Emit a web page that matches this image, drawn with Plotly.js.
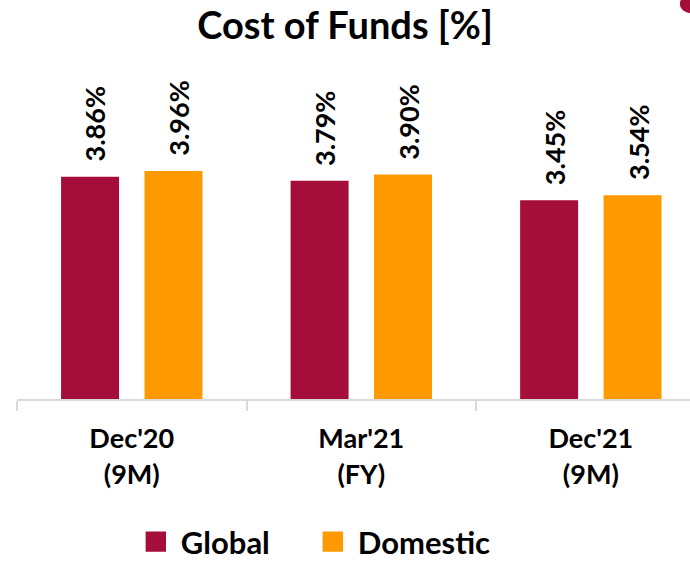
<!DOCTYPE html>
<html>
<head>
<meta charset="utf-8">
<script src="https://cdn.plot.ly/plotly-3.0.1.min.js"></script>
<style>
  html, body { margin: 0; padding: 0; background: #ffffff; }
  #chart { width: 690px; height: 563px; }
</style>
</head>
<body>
<div id="chart"></div>
<script>
// ---- data ----
const categories = ["Dec'20<br>(9M)", "Mar'21<br>(FY)", "Dec'21<br>(9M)"];
const globalValues = [3.86, 3.79, 3.45];
const domesticValues = [3.96, 3.90, 3.54];
const seriesNames = ["Global", "Domestic"];
const chartTitle = "Cost of Funds [%]";

const crimson = "#A50E3B";
const orange = "#FF9900";
const FONT = "Lato, 'Open Sans', sans-serif";

const fmt = v => v.toFixed(2) + "%";

const traces = [
  {
    type: "bar", name: seriesNames[0], x: categories, y: globalValues,
    marker: { color: crimson }, hoverinfo: "skip"
  },
  {
    type: "bar", name: seriesNames[1], x: categories, y: domesticValues,
    marker: { color: orange }, hoverinfo: "skip"
  }
];

const barShift = 42;
const annotations = [];
[globalValues, domesticValues].forEach((vals, s) => {
  vals.forEach((v, i) => {
    annotations.push({
      x: categories[i], y: v, xref: "x", yref: "y",
      text: fmt(v), showarrow: false, textangle: -90,
      xanchor: "center", yanchor: "bottom",
      xshift: (s === 0 ? -barShift : barShift) + 5, yshift: 13,
      font: { family: FONT, size: 27, color: "#000000", weight: "bold" }
    });
  });
});

const layout = {
  width: 690, height: 563,
  paper_bgcolor: "#ffffff", plot_bgcolor: "#ffffff",
  margin: { l: 17, r: 0, t: 50, b: 164 },
  title: {
    text: "<b>" + chartTitle + "</b>",
    font: { family: FONT, size: 38, color: "#000000" },
    x: 0.5, xref: "container", xanchor: "center",
    y: 1 - 26 / 563, yref: "container", yanchor: "middle"
  },
  barmode: "group",
  bargap: 0.273,
  bargroupgap: 0.305,
  xaxis: {
    type: "category",
    range: [-0.5, 2.432],
    showline: true, linecolor: "#d9d9d9", linewidth: 2,
    ticks: "outside", tickson: "boundaries", ticklen: 10, tickwidth: 2, tickcolor: "#d9d9d9",
    tickfont: { family: FONT, size: 27, color: "#000000", weight: "bold" },
    ticklabelstandoff: 15,
    showgrid: false, zeroline: false, fixedrange: true
  },
  yaxis: {
    range: [0, 6.06],
    visible: false, showgrid: false, zeroline: false, fixedrange: true
  },
  showlegend: true,
  legend: {
    orientation: "h",
    x: 0.447, xanchor: "center",
    yref: "container", y: 1 - 542 / 563, yanchor: "middle",
    font: { family: FONT, size: 31, color: "#000000", weight: "bold" },
    entrywidthmode: "pixels", entrywidth: 132,
    bgcolor: "rgba(0,0,0,0)"
  },
  annotations: annotations,
  shapes: [
    {
      type: "circle", xref: "paper", yref: "paper",
      x0: 0.985, x1: 1.02, y0: 1.105, y1: 1.16,
      fillcolor: crimson, line: { width: 0 }
    }
  ]
};

Plotly.newPlot("chart", traces, layout, { displayModeBar: false, staticPlot: true }).then(gd => {
  // enlarge legend swatches to match the reference's larger squares
  gd.querySelectorAll(".legend .legendpoints path").forEach(p => {
    p.setAttribute("transform", "translate(15,0) scale(1.7)");
  });
});
</script>
</body>
</html>
